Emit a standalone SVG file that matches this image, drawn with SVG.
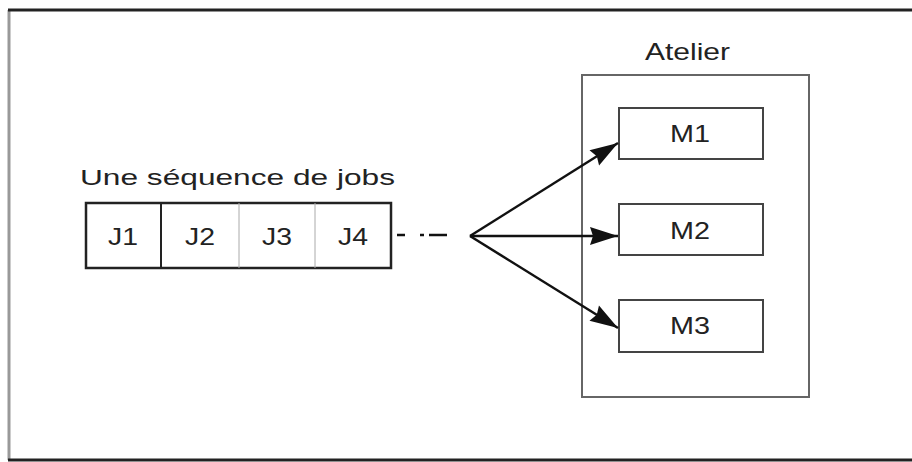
<svg xmlns="http://www.w3.org/2000/svg" width="912" height="462" viewBox="0 0 912 462">
<defs>
<style>
text{font-family:"Liberation Sans",Arial,sans-serif;fill:#222;}
.lbl{font-size:24px;text-anchor:middle;}
.mbox{fill:#fff;stroke:#444;stroke-width:2;}
.conn{stroke:#111;stroke-width:2.5;fill:none;}
</style>
<marker id="arr" markerUnits="userSpaceOnUse" markerWidth="30" markerHeight="22" refX="28" refY="11" orient="auto" overflow="visible">
<path d="M0,2 L28,11 L0,20 L3,11 Z" fill="#111"/>
</marker>
</defs>
<rect width="912" height="462" fill="#fff"/>
<g id="frame">
<line x1="9" y1="10" x2="9" y2="460" stroke="#999" stroke-width="3"/>
<line x1="8" y1="10" x2="912" y2="10" stroke="#222" stroke-width="3"/>
<line x1="8" y1="460" x2="912" y2="460" stroke="#222" stroke-width="3"/>
</g>
<g id="sequence">
<text x="80" y="185" font-size="22" textLength="315" lengthAdjust="spacingAndGlyphs">Une séquence de jobs</text>
<rect x="86" y="203" width="305" height="65" fill="#fff" stroke="#222" stroke-width="2.5"/>
<line x1="161" y1="203" x2="161" y2="268" stroke="#222" stroke-width="2"/>
<line x1="239" y1="203" x2="239" y2="268" stroke="#aaa" stroke-width="1"/>
<line x1="315" y1="203" x2="315" y2="268" stroke="#aaa" stroke-width="1"/>
<g id="J1"><text class="lbl" x="123" y="245" textLength="30" lengthAdjust="spacingAndGlyphs">J1</text></g>
<g id="J2"><text class="lbl" x="200" y="245" textLength="30" lengthAdjust="spacingAndGlyphs">J2</text></g>
<g id="J3"><text class="lbl" x="277" y="245" textLength="30" lengthAdjust="spacingAndGlyphs">J3</text></g>
<g id="J4"><text class="lbl" x="353" y="245" textLength="30" lengthAdjust="spacingAndGlyphs">J4</text></g>
</g>
<g id="atelier">
<text x="645" y="60" font-size="24" textLength="85" lengthAdjust="spacingAndGlyphs">Atelier</text>
<rect x="582" y="75" width="227" height="322" fill="none" stroke="#666" stroke-width="2"/>
</g>
<g id="M1"><rect class="mbox" x="619" y="108" width="144" height="51"/><text class="lbl" x="690" y="142" textLength="40" lengthAdjust="spacingAndGlyphs">M1</text></g>
<g id="M2"><rect class="mbox" x="619" y="204" width="144" height="51"/><text class="lbl" x="690" y="239" textLength="40" lengthAdjust="spacingAndGlyphs">M2</text></g>
<g id="M3"><rect class="mbox" x="619" y="300" width="144" height="52"/><text class="lbl" x="690" y="334" textLength="40" lengthAdjust="spacingAndGlyphs">M3</text></g>
<g id="connectors">
<path class="conn" d="M397,235 H405 M420,235 H424 M429,235 H447"/>
<line class="conn" x1="470" y1="236" x2="618" y2="143" marker-end="url(#arr)"/>
<line class="conn" x1="470" y1="236" x2="618" y2="236" marker-end="url(#arr)"/>
<line class="conn" x1="470" y1="236" x2="618" y2="328" marker-end="url(#arr)"/>
</g>
</svg>
